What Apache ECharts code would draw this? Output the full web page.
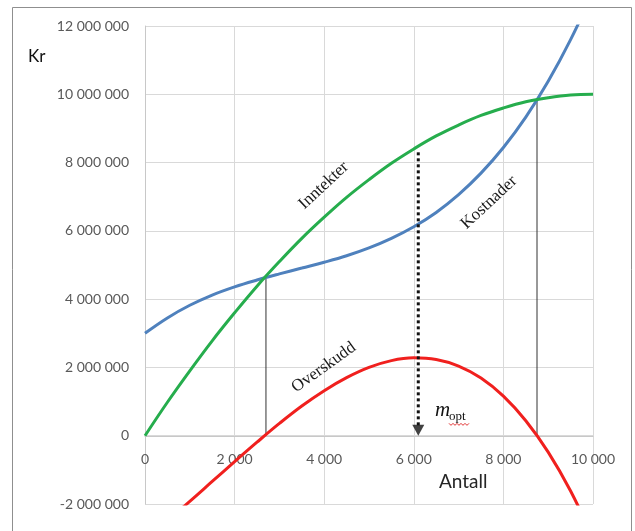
<!DOCTYPE html>
<html>
<head>
<meta charset="utf-8">
<script src="https://cdn.jsdelivr.net/npm/echarts@6/dist/echarts.min.js"></script>
<style>html,body{margin:0;padding:0;background:#fff;}#c{width:635px;height:531px;}</style>
</head>
<body>
<div id="c"></div>
<script>
// Data
var antall = [0,500,1000,1500,2000,2500,3000,3500,4000,4500,5000,5500,6000,6500,7000,7500,8000,8500,9000,9500,10000];
var inntekter = [0,980000,1900000,2780000,3600000,4380000,5100000,5780000,6400000,6980000,7500000,7980000,8400000,8780000,9100000,9380000,9600000,9780000,9900000,9980000,10000000];
var kostnader = [3000000,3450000,3820000,4120000,4360000,4560000,4740000,4910000,5080000,5270000,5500000,5780000,6120000,6540000,7060000,7690000,8440000,9330000,10380000,11600000,13000000];
var overskudd = [-3000000,-2480000,-1920000,-1340000,-760000,-190000,360000,870000,1320000,1700000,2000000,2200000,2280000,2230000,2040000,1690000,1160000,440000,-480000,-1620000,-3000000];
var breakEvenX = [2700, 8750];
var breakEvenY = [4670000, 9840000];
var optX = 6100, optTop = 8300000;
var xTicks = {min:0, max:10000, step:2000};
var yTicks = {min:-2000000, max:12000000, step:2000000};

function pairs(xs, ys){ return xs.map(function(x,i){return [x, ys[i]];}); }
function fmt(v){ var s = String(Math.abs(v)).replace(/\B(?=(\d{3})+(?!\d))/g, ' '); return (v<0?'-':'') + s; }

var chart = echarts.init(document.getElementById('c'), null, {renderer:'canvas'});
var axisFont = 'Lato, "Open Sans", sans-serif';
var gridCol = '#d9d9d9';
var opt = {
  animation:false,
  grid:{left:145, right:42, top:26, bottom:27},
  xAxis:{type:'value', min:xTicks.min, max:xTicks.max, interval:xTicks.step, position:'bottom', offset:0,
    axisLine:{show:true, onZero:false, lineStyle:{color:'#c8c8c8', width:1}},
    axisTick:{show:false},
    axisLabel:{margin:16, color:'#595959', fontSize:14, fontFamily:axisFont, formatter:fmt},
    splitLine:{show:true, lineStyle:{color:gridCol, width:1}}},
  yAxis:{type:'value', min:yTicks.min, max:yTicks.max, interval:yTicks.step,
    axisLine:{show:true, onZero:false, lineStyle:{color:'#c8c8c8', width:1}},
    axisTick:{show:false},
    axisLabel:{margin:16, color:'#595959', fontSize:14, fontFamily:axisFont, formatter:fmt},
    splitLine:{show:true, lineStyle:{color:gridCol, width:1}}},
  series:[
    {type:'line', name:'v1', data:[[breakEvenX[0],0],[breakEvenX[0],breakEvenY[0]]], symbol:'none', silent:true,
      lineStyle:{color:'#333333', width:1}, z:1},
    {type:'line', name:'v2', data:[[breakEvenX[1],0],[breakEvenX[1],breakEvenY[1]]], symbol:'none', silent:true,
      lineStyle:{color:'#333333', width:1}, z:1},
    {type:'line', name:'Kostnader', data:pairs(antall,kostnader), smooth:0.4, symbol:'none',
      lineStyle:{color:'#4f81bd', width:3}, z:2},
    {type:'line', name:'Inntekter', data:pairs(antall,inntekter), smooth:0.4, symbol:'none',
      lineStyle:{color:'#26ad4d', width:3}, z:3},
    {type:'line', name:'Overskudd', data:pairs(antall,overskudd), smooth:0.4, symbol:'none',
      lineStyle:{color:'#f0201e', width:3}, z:4},
    {type:'line', name:'opt', data:[[optX,optTop],[optX,300000]], symbol:'none',
      lineStyle:{color:'#111', width:3, type:[3,3], cap:'butt'}, z:5},
    {type:'scatter', name:'arrow', data:[[optX,0]], symbol:'path://M0,0 L12,0 L6,11 Z', symbolSize:[12,11],
      symbolOffset:[0,-5.5], itemStyle:{color:'#111'}, z:6}
  ]
};
chart.setOption(opt);

function px(x,y){ return chart.convertToPixel({gridIndex:0}, [x,y]); }
// move the x axis (line + labels) up to the zero level
var zeroOff = px(0, yTicks.min)[1] - px(0, 0)[1];
chart.setOption({xAxis:{offset:-zeroOff}});

var serif = '"Liberation Serif", "Times New Roman", serif';
var pI = px(3990, 7330000), pK = px(7680, 6830000), pO = px(3990, 2000000), pM = px(6473, 450000);
var squig = [];
for (var i=0;i<=10;i++){ squig.push([pM[0]+14+i*2, pM[1]+3+(i%2?2:0)]); }
chart.setOption({graphic:[
  {type:'rect', shape:{x:12.5, y:7.5, width:619, height:540}, style:{fill:'none', stroke:'#8f8f8f', lineWidth:1}, silent:true},
  {type:'text', x:28, y:65, style:{text:'Kr', font:'17px Lato, sans-serif', fill:'#111', textAlign:'left', textVerticalAlign:'bottom', align:'left', verticalAlign:'bottom'}},
  {type:'text', x:439, y:491, style:{text:'Antall', font:'19px Lato, sans-serif', fill:'#262626', textAlign:'left', textVerticalAlign:'bottom', align:'left', verticalAlign:'bottom'}},
  {type:'text', x:pI[0], y:pI[1], rotation:0.75, style:{text:'Inntekter', font:'17px '+serif, fill:'#1a1a1a', textAlign:'center', textVerticalAlign:'middle', align:'center', verticalAlign:'middle'}},
  {type:'text', x:pK[0], y:pK[1], rotation:0.75, style:{text:'Kostnader', font:'17px '+serif, fill:'#1a1a1a', textAlign:'center', textVerticalAlign:'middle', align:'center', verticalAlign:'middle'}},
  {type:'text', x:pO[0], y:pO[1], rotation:0.62, style:{text:'Overskudd', font:'17px '+serif, fill:'#1a1a1a', textAlign:'center', textVerticalAlign:'middle', align:'center', verticalAlign:'middle'}},
  {type:'text', x:pM[0], y:pM[1]+1, style:{text:'m', font:'italic 21px '+serif, fill:'#111', textAlign:'left', textVerticalAlign:'bottom', align:'left', verticalAlign:'bottom'}},
  {type:'text', x:pM[0]+14, y:pM[1]+3, style:{text:'opt', font:'13px '+serif, fill:'#111', textAlign:'left', textVerticalAlign:'bottom', align:'left', verticalAlign:'bottom'}},
  {type:'polyline', shape:{points:squig}, style:{stroke:'#e03030', lineWidth:1, fill:'none'}, silent:true}
]});
</script>
</body>
</html>
